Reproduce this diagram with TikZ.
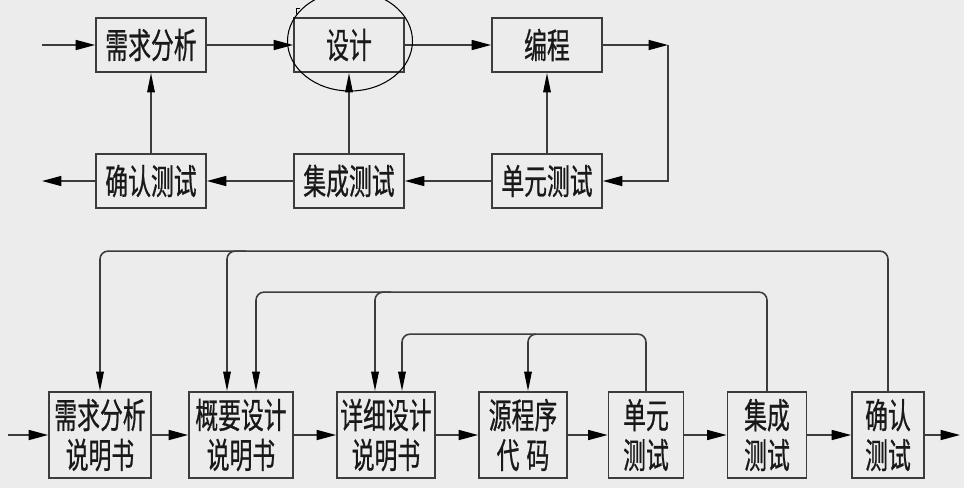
\documentclass[tikz,border=0pt]{standalone}
\usepackage{fontspec}
\newfontfamily\cjk[FakeStretch=0.65,FakeBold=0.6]{Noto Sans CJK SC}
\usetikzlibrary{arrows.meta}
\definecolor{bgc}{RGB}{236,236,236}
\definecolor{ln}{RGB}{60,60,60}
\tikzset{
  box/.style={draw=ln,line width=1pt,inner sep=0pt,align=center,text=black!90,
    font=\cjk\fontsize{20}{22.7}\selectfont},
  topbox/.style={box,minimum width=2.2cm,minimum height=1.08cm},
  lowbox/.style={box,minimum height=1.72cm},
  harr/.style={ln,line width=0.9pt,-{Triangle[length=3.9mm,width=2mm,color=black]}},
  varr/.style={ln,line width=0.9pt,-{Triangle[length=3.9mm,width=1.5mm,color=black]}},
  fb/.style={varr,rounded corners=0.16cm},
}
\begin{document}
\begin{tikzpicture}[x=0.02cm,y=-0.02cm]
  \fill[bgc] (0,0) rectangle (964,488);
  \useasboundingbox (0,0) rectangle (964,488);
  % upper loop
  \node[topbox] (xq) at (151,45) {需求分析};
  \node[topbox] (sj) at (349,45) {设计};
  \node[topbox] (bc) at (547,45) {编程};
  \node[topbox] (qr) at (151,181) {确认测试};
  \node[topbox] (jc) at (349,181) {集成测试};
  \node[topbox] (dy) at (547,181) {单元测试};
  \coordinate (in1) at (42,45);
  \coordinate (out1) at (42,181);
  \coordinate (c1) at (668,45);
  \begin{scope}[harr]
    \draw (in1) -- (xq);
    \draw (xq) -- (sj);
    \draw (sj) -- (bc);
    \draw (bc) -- (c1);
    \draw (c1) |- (dy);
    \draw (dy) -- (jc);
    \draw (jc) -- (qr);
    \draw (qr) -- (out1);
  \end{scope}
  \begin{scope}[varr]
    \draw (qr) -- (xq);
    \draw (jc) -- (sj);
    \draw (dy) -- (bc);
  \end{scope}
  % pen mark round the design box
  \draw[black,line width=0.6pt] (350,41) ellipse (1.25cm and 1cm);
  \draw[black,line width=0.5pt] (296,14) -- (296,8) -- (300,8);
  % lower chain
  \node[lowbox,minimum width=2.04cm] (xqs) at (100,435) {需求分析\\说明书};
  \node[lowbox,minimum width=2.08cm] (gys) at (241,435) {概要设计\\说明书};
  \node[lowbox,minimum width=1.96cm] (xxs) at (386,435) {详细设计\\说明书};
  \node[lowbox,minimum width=1.76cm] (ydm) at (523,435) {源程序\\代\hspace{4pt}码};
  \node[lowbox,minimum width=1.5cm] (dyc) at (646,435) {单元\\测试};
  \node[lowbox,minimum width=1.58cm] (jcc) at (767,435) {集成\\测试};
  \node[lowbox,minimum width=1.44cm] (qrc) at (888,435) {确认\\测试};
  \coordinate (in2) at (8,435);
  \coordinate (out2) at (960,435);
  \begin{scope}[harr]
    \draw (in2) -- (xqs);
    \draw (xqs) -- (gys);
    \draw (gys) -- (xxs);
    \draw (xxs) -- (ydm);
    \draw (ydm) -- (dyc);
    \draw (dyc) -- (jcc);
    \draw (jcc) -- (qrc);
    \draw (qrc) -- (out2);
  \end{scope}
  % feedback lines
  \draw[fb] (qrc.north) -- ++(0,-140) coordinate (t1) -| (xqs.north);
  \draw[fb] ([xshift=0.1cm]t1 -| gys.north) -| ([xshift=-0.28cm]gys.north);
  \draw[fb] (jcc.north) -- ++(0,-99) coordinate (t2) -| ([xshift=0.3cm]gys.north);
  \draw[fb] ([xshift=0.1cm]t2 -| xxs.north) -| ([xshift=-0.22cm]xxs.north);
  \draw[fb] (dyc.north) -- ++(0,-57) coordinate (t3) -| ([xshift=0.32cm]xxs.north);
  \draw[fb] ([xshift=0.25cm]t3 -| ydm.north) -| ([xshift=0.1cm]ydm.north);
\end{tikzpicture}
\end{document}
